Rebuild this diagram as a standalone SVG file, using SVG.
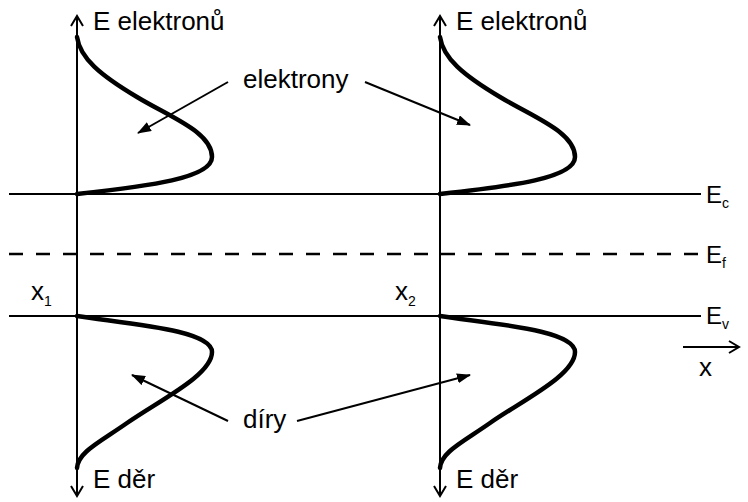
<svg xmlns="http://www.w3.org/2000/svg" width="748" height="502" viewBox="0 0 748 502">
<style>
text{font-family:"Liberation Sans",Arial,sans-serif;font-size:26px;fill:#000}
.lv{font-size:24px}
.sub{font-size:14px}
.ln{stroke:#000;stroke-width:2;fill:none}
.dash{stroke:#000;stroke-width:2.5;fill:none;stroke-dasharray:14 13}
.curve{stroke:#000;stroke-width:4.5;fill:none;stroke-linecap:round}
.head{stroke:#000;stroke-width:2;fill:none}
.arr{stroke:#000;stroke-width:2;fill:none}
</style>
<defs>
<marker id="tri" viewBox="0 0 14 10" refX="13" refY="5" markerWidth="14" markerHeight="10" markerUnits="userSpaceOnUse" orient="auto">
<path d="M0,0 L14,5 L0,10 Z" fill="#000"/>
</marker>
</defs>
<g id="levels">
<line class="ln" x1="9" y1="194" x2="701" y2="194"/>
<line class="dash" x1="9" y1="254" x2="701" y2="254"/>
<line class="ln" x1="9" y1="316" x2="701" y2="316"/>
<text class="lv" x="706" y="203">E<tspan class="sub" dy="5">c</tspan></text>
<text class="lv" x="706" y="263">E<tspan class="sub" dy="5">f</tspan></text>
<text class="lv" x="706" y="324">E<tspan class="sub" dy="5">v</tspan></text>
</g>
<g id="axis1">
<line class="ln" x1="77" y1="16" x2="77" y2="496"/>
<path class="head" d="M71,26 L77,16 L83,26"/>
<path class="head" d="M71,486 L77,496 L83,486"/>
<text x="93" y="30">E elektronů</text>
<text x="93" y="488">E děr</text>
<text x="31" y="300">x<tspan class="sub" dy="6">1</tspan></text>
<path class="curve" d="M77,37 C80,58 100,75 137,97 C170,117 212,132 212,157 C212,178 150,186 77,194"/>
<path class="curve" d="M77,316 C130,324 212,330 212,352 C212,375 160,400 127,423 C100,442 78,452 77,468"/>
</g>
<g id="axis2">
<line class="ln" x1="440" y1="16" x2="440" y2="496"/>
<path class="head" d="M434,26 L440,16 L446,26"/>
<path class="head" d="M434,486 L440,496 L446,486"/>
<text x="456" y="30">E elektronů</text>
<text x="456" y="488">E děr</text>
<text x="395" y="300">x<tspan class="sub" dy="6">2</tspan></text>
<path class="curve" transform="translate(363,0)" d="M77,37 C80,58 100,75 137,97 C170,117 212,132 212,157 C212,178 150,186 77,194"/>
<path class="curve" transform="translate(363,0)" d="M77,316 C130,324 212,330 212,352 C212,375 160,400 127,423 C100,442 78,452 77,468"/>
</g>
<g id="label-elektrony">
<text x="243" y="88">elektrony</text>
</g>
<g id="label-diry">
<text x="243" y="428">díry</text>
</g>
<g id="x-direction">
<line class="ln" x1="683" y1="347" x2="739" y2="347"/>
<path class="head" d="M729,341 L739,347 L729,353"/>
<text x="699" y="376">x</text>
</g>
<g id="connectors">
<line class="arr" x1="228" y1="82" x2="138" y2="133" marker-end="url(#tri)"/>
<line class="arr" x1="365" y1="82" x2="470" y2="125" marker-end="url(#tri)"/>
<line class="arr" x1="228" y1="421" x2="132" y2="375" marker-end="url(#tri)"/>
<line class="arr" x1="297" y1="421" x2="470" y2="375" marker-end="url(#tri)"/>
</g>
</svg>
